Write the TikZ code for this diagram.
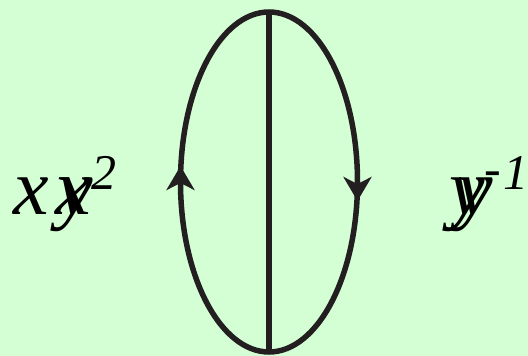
\documentclass[tikz,border=0pt]{standalone}
\usepackage{fontspec}
\setmainfont{Liberation Serif}
\usetikzlibrary{arrows.meta, positioning, shapes.geometric}
\definecolor{paleback}{HTML}{D4FED4}
\definecolor{inkline}{HTML}{231F20}

\begin{document}
\begin{tikzpicture}[
    x=1pt, y=1pt,
    line width=5.5pt,
    bigmath/.style={inner sep=0pt, anchor=base, text=black,
                    font=\fontsize{80}{80}\selectfont\itshape},
    powmath/.style={inner sep=0pt, anchor=base, text=black,
                    font=\fontsize{50}{50}\selectfont\itshape},
    headtip/.style={-{Stealth[length=24pt, width=28pt, inset=7pt]}}
  ]
  \fill[paleback] (0,0) rectangle (528,356);
  \useasboundingbox (0,0) rectangle (528,356);

  \node[draw=inkline, ellipse, minimum width=177pt, minimum height=340pt,
        inner sep=0pt, outer sep=0pt] (loop) at (269,174) {};
  \draw[inkline] (loop.north) -- (loop.south);

  % arrowheads on the loop
  \coordinate (upfrom) at (180.5,160);
  \coordinate (uptip) at (180.5,190);
  \coordinate (downfrom) at (357.5,184);
  \coordinate (downtip) at (357.5,155);
  \draw[inkline, headtip] (upfrom) -- (uptip);
  \draw[inkline, headtip] (downfrom) -- (downtip);

  % overprinted labels, left
  \node[bigmath] (xa) at (31,141) {x};
  \node[bigmath] (ya) at (75,141) {y};
  \node[bigmath] (xb) at (73,141) {x};
  \node[powmath] (pa) at (104,166) {2};

  % overprinted labels, right
  \node[bigmath] (yb) at (467,141) {y};
  \node[bigmath] (yc) at (475,141) {y};
  \node[powmath] (pb) at (493,170) {-};
  \node[powmath] (pc) at (515.5,166) {1};
\end{tikzpicture}
\end{document}
